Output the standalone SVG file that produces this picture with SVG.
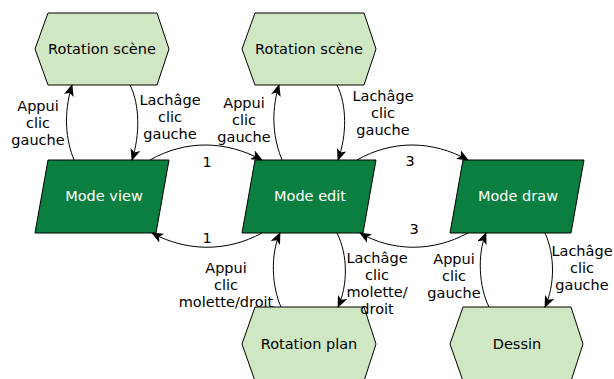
<svg xmlns="http://www.w3.org/2000/svg" width="614" height="379" viewBox="0 0 614 379">
<defs>
<style>
.hex{fill:#d0e7c4;stroke:#000;stroke-width:1}
.par{fill:#0a7f3f;stroke:#000;stroke-width:1}
.t{font-family:"DejaVu Sans",sans-serif;font-size:14.5px;text-anchor:middle;fill:#000}
.tw{font-family:"DejaVu Sans",sans-serif;font-size:14.5px;text-anchor:middle;fill:#fff}
.e{fill:none;stroke:#000;stroke-width:1;marker-end:url(#ah)}
</style>
<marker id="ah" viewBox="0 0 12 10" refX="11" refY="5" markerWidth="12" markerHeight="10" markerUnits="userSpaceOnUse" orient="auto">
<path d="M0,0 L12,5 L0,10 L3,5 z" fill="#000"/>
</marker>
</defs>
<rect width="614" height="379" fill="#fff"/>
<g id="rot1"><polygon class="hex" points="48,13 157,13 169,49 157,85 48,85 35,49"/><text class="t" x="102" y="54">Rotation scène</text></g>
<g id="rot2"><polygon class="hex" points="255,13 364,13 376,49 364,85 255,85 242,49"/><text class="t" x="309" y="54">Rotation scène</text></g>
<g id="view"><polygon class="par" points="48,160 169,160 156,233 35,233"/><text class="tw" x="104" y="201">Mode view</text></g>
<g id="edit"><polygon class="par" points="255,160 376,160 363,233 242,233"/><text class="tw" x="310" y="201">Mode edit</text></g>
<g id="draw"><polygon class="par" points="463,160 584,160 571,233 450,233"/><text class="tw" x="518" y="201">Mode draw</text></g>
<g id="rotplan"><polygon class="hex" points="255,307 364,307 376,344 364,381 255,381 242,344"/><text class="t" x="309" y="349">Rotation plan</text></g>
<g id="dessin"><polygon class="hex" points="463,307 571,307 583,344 571,381 463,381 450,344"/><text class="t" x="517" y="349">Dessin</text></g>
<g id="edges">
<path class="e" d="M74,160 C66,140 63,115 72,85"/>
<path class="e" d="M130,85 C140,105 140,135 132,160"/>
<path class="e" d="M150,160 C185,140 225,140 262,160"/>
<path class="e" d="M282,160 C274,140 270,115 279,85"/>
<path class="e" d="M337,85 C347,105 347,135 338,160"/>
<path class="e" d="M357,160 C392,140 432,140 468,160"/>
<path class="e" d="M262,233 C227,252 187,252 152,233"/>
<path class="e" d="M468,233 C433,252 393,252 360,233"/>
<path class="e" d="M281,307 C272,287 270,255 280,233"/>
<path class="e" d="M337,233 C348,255 348,285 338,307"/>
<path class="e" d="M489,307 C479,287 477,255 486,233"/>
<path class="e" d="M545,233 C555,255 555,285 545,307"/>
</g>
<g id="labels">
<text class="t" y="111"><tspan x="38">Appui</tspan><tspan x="38" dy="17">clic</tspan><tspan x="38" dy="17">gauche</tspan></text>
<text class="t" y="105"><tspan x="170">Lachâge</tspan><tspan x="170" dy="17">clic</tspan><tspan x="170" dy="17">gauche</tspan></text>
<text class="t" x="207" y="167">1</text>
<text class="t" y="108"><tspan x="244">Appui</tspan><tspan x="244" dy="17">clic</tspan><tspan x="244" dy="17">gauche</tspan></text>
<text class="t" y="101"><tspan x="383">Lachâge</tspan><tspan x="383" dy="17">clic</tspan><tspan x="383" dy="17">gauche</tspan></text>
<text class="t" x="410" y="166">3</text>
<text class="t" x="207" y="243">1</text>
<text class="t" x="414" y="234">3</text>
<text class="t" y="273"><tspan x="226">Appui</tspan><tspan x="226" dy="17">clic</tspan><tspan x="226" dy="17">molette/droit</tspan></text>
<text class="t" y="263"><tspan x="377">Lachâge</tspan><tspan x="377" dy="17">clic</tspan><tspan x="377" dy="17">molette/</tspan><tspan x="377" dy="17">droit</tspan></text>
<text class="t" y="264"><tspan x="454">Appui</tspan><tspan x="454" dy="17">clic</tspan><tspan x="454" dy="17">gauche</tspan></text>
<text class="t" y="256"><tspan x="582">Lachâge</tspan><tspan x="582" dy="17">clic</tspan><tspan x="582" dy="17">gauche</tspan></text>
</g>
</svg>
